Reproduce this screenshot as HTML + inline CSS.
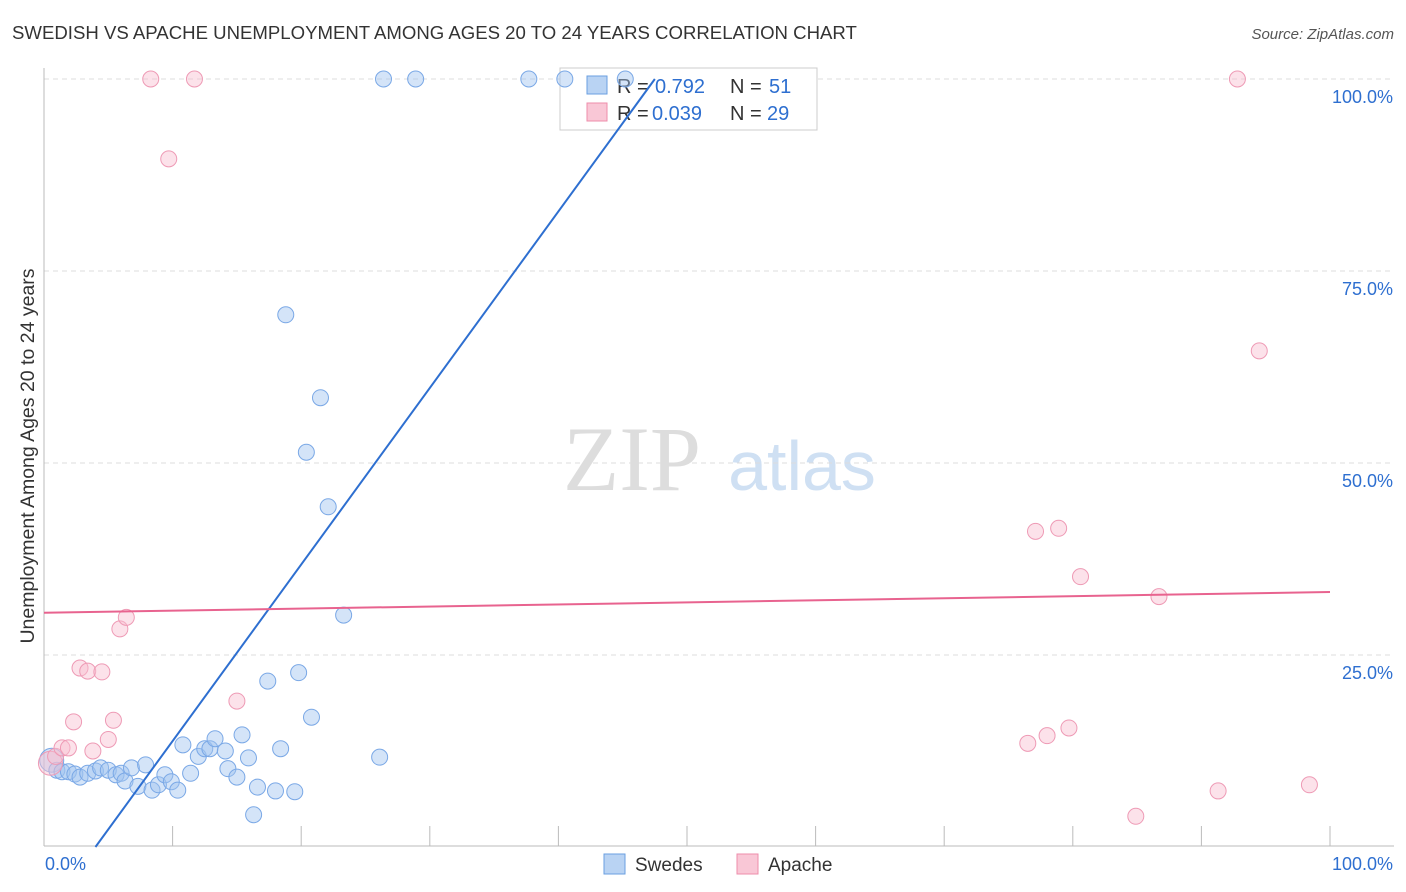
<!DOCTYPE html>
<html><head><meta charset="utf-8"><style>
body{margin:0;background:#fff;font-family:"Liberation Sans",sans-serif;}
svg{display:block}
</style></head><body>
<svg id="c" width="1406" height="892">
<text x="12" y="39" font-size="18.6" fill="#333">SWEDISH VS APACHE UNEMPLOYMENT AMONG AGES 20 TO 24 YEARS CORRELATION CHART</text>
<text x="1394" y="39" font-size="15" fill="#555" font-style="italic" text-anchor="end">Source: ZipAtlas.com</text>
<text x="34" y="456" font-size="19.5" fill="#333" text-anchor="middle" transform="rotate(-90 34 456)">Unemployment Among Ages 20 to 24 years</text>
<text x="632" y="490" font-size="92" fill="#ddd" font-family="Liberation Serif,serif" text-anchor="middle">ZIP</text>
<text x="802" y="490" font-size="70" fill="#cfe0f3" text-anchor="middle">atlas</text>
<g id="grid"></g>
<g>
<rect x="560" y="68" width="257" height="62" fill="#fff" stroke="#ccc"/>
<rect x="587" y="76" width="20" height="18" fill="#b9d3f3" stroke="#6a9fe0"/>
<text x="617" y="93" font-size="20" fill="#333">R =</text>
<text x="655" y="93" font-size="20" fill="#2e6fd0">0.792</text>
<text x="730" y="93" font-size="20" fill="#333">N =</text>
<text x="769" y="93" font-size="20" fill="#2e6fd0">51</text>
<rect x="587" y="103" width="20" height="18" fill="#f9c7d6" stroke="#ee8cab"/>
<text x="617" y="120" font-size="20" fill="#333">R =</text>
<text x="652" y="120" font-size="20" fill="#2e6fd0">0.039</text>
<text x="730" y="120" font-size="20" fill="#333">N =</text>
<text x="767" y="120" font-size="20" fill="#2e6fd0">29</text>
</g>
<g id="pts"></g><g id="lines"></g>
<g>
<rect x="604" y="854" width="21" height="20" fill="#b9d3f3" stroke="#6a9fe0"/>
<text x="635" y="871" font-size="19" fill="#333">Swedes</text>
<rect x="737" y="854" width="21" height="20" fill="#f9c7d6" stroke="#ee8cab"/>
<text x="768" y="871" font-size="19" fill="#333">Apache</text>
</g>
</svg>
<script>
const yTicks=[25,50,75,100];
const xTickLabels=["0.0%","100.0%"];
const swX=[0.6,1,1.4,1.9,2.4,2.8,3.4,4,4.4,5,5.6,6,6.3,6.8,7.3,7.9,8.4,8.9,9.4,9.9,10.4,10.8,11.4,12,12.5,12.9,13.3,14.1,14.3,15,15.4,15.9,16.3,16.6,17.4,18,18.4,18.8,19.5,19.8,20.4,20.8,21.5,22.1,23.3,26.1,26.4,28.9,37.7,40.5,45.2];
const swY=[11.3,10,9.8,9.8,9.5,9.1,9.6,9.9,10.3,10,9.4,9.6,8.6,10.3,7.9,10.7,7.4,8.1,9.4,8.5,7.4,13.3,9.6,11.8,12.8,12.8,14.1,12.5,10.2,9.1,14.6,11.6,4.2,7.8,21.6,7.3,12.8,69.3,7.2,22.7,51.4,16.9,58.5,44.3,30.2,11.7,100,100,100,100,100];
const apX=[0.5,0.9,1.4,1.9,2.3,2.8,3.4,3.8,4.5,5,5.4,5.9,6.4,8.3,9.7,11.7,15,77.1,78.9,80.6,76.5,78,79.7,84.9,86.7,92.8,91.3,94.5,98.4];
const apY=[10.9,11.8,12.9,12.9,16.3,23.3,22.9,12.5,22.8,14,16.5,28.4,29.9,100,89.6,100,19,41.1,41.5,35.2,13.5,14.5,15.5,4,32.6,100,7.3,64.6,8.1];
const swFit=[4,47.5];  // x at y=0 and y=100
const apFit=[30.5,33.2];
const ns="http://www.w3.org/2000/svg";
const X=v=>44+v*12.86, Y=v=>847-v*7.68;
function mk(t,a,p){const e=document.createElementNS(ns,t);for(const k in a)e.setAttribute(k,a[k]);p.appendChild(e);return e;}
const g=document.getElementById('grid');
yTicks.forEach(t=>{const l=mk('line',{x1:44,x2:1394,y1:Y(t),y2:Y(t),stroke:'#ddd','stroke-dasharray':'5,4'},g);


const tx=mk('text',{x:1393,y:Y(t)+24,'font-size':18,fill:'#2e6fd0','text-anchor':'end'},g);tx.textContent=t.toFixed(1)+'%';

});
mk('line',{x1:44,x2:44,y1:68,y2:846,stroke:'#bbb'},g);
mk('line',{x1:44,x2:1394,y1:846,y2:846,stroke:'#bbb'},g);
for(let i=0;i<=10;i++)mk('line',{x1:X(i*10),x2:X(i*10),y1:826,y2:846,stroke:'#bbb'},g);
[[0,'start',45],[100,'end',1393]].forEach((d,i)=>{const t=mk('text',{x:d[2],y:870,'font-size':18,fill:'#2e6fd0','text-anchor':d[1]},g);t.textContent=xTickLabels[i];

});
const p=document.getElementById('pts');
swX.forEach((x,i)=>{const c=mk('circle',{cx:X(x),cy:Y(swY[i]),r:i==0?12:8,fill:'rgba(160,196,240,0.45)',stroke:'#7aa8e6','stroke-width':1},p);

});
apX.forEach((x,i)=>{const c=mk('circle',{cx:X(x),cy:Y(apY[i]),r:i==0?12:8,fill:'rgba(248,190,208,0.45)',stroke:'#ee9ab5','stroke-width':1},p);

});
const L=document.getElementById('lines');
const s1=mk('line',{x1:X(swFit[0]),y1:Y(0),x2:X(swFit[1]),y2:Y(100),stroke:'#2e6fd0','stroke-width':2},L);


const s2=mk('line',{x1:X(0),y1:Y(apFit[0]),x2:X(100),y2:Y(apFit[1]),stroke:'#e8638f','stroke-width':2},L);


</script>
</body></html>
